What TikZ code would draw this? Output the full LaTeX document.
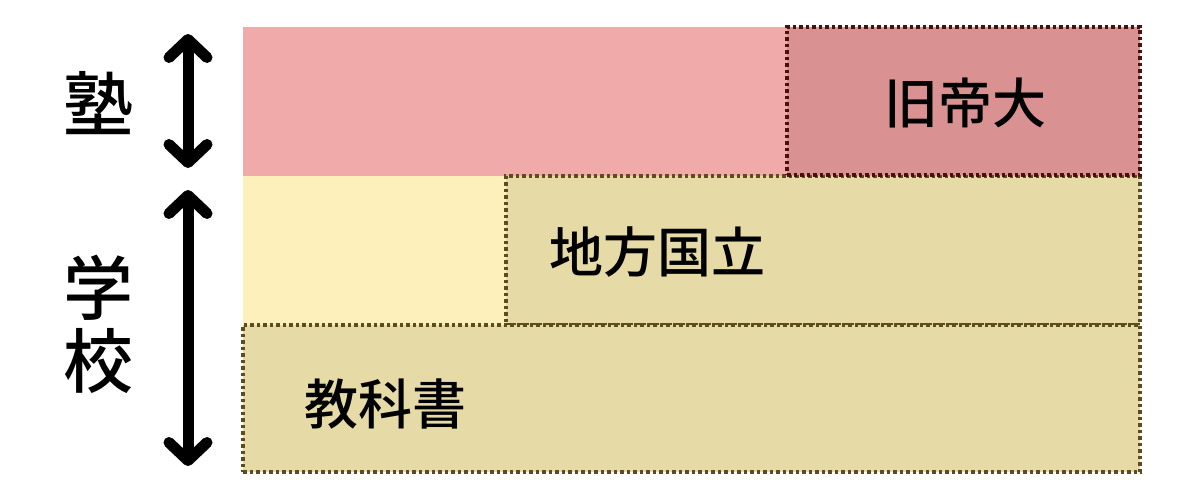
\documentclass[tikz,border=0pt]{standalone}
\usepackage{fontspec}
\setmainfont{Noto Sans CJK JP}[BoldFont={Noto Sans CJK JP Medium}]
\usetikzlibrary{arrows.meta}
\definecolor{pinkA}{HTML}{F0AAAA}
\definecolor{pinkB}{HTML}{DA9191}
\definecolor{yelA}{HTML}{FEF0BB}
\definecolor{tanA}{HTML}{E6DAA6}
\definecolor{redB}{HTML}{4A1010}
\definecolor{oliveB}{HTML}{5E4C20}
\tikzset{
  band/.style={draw=none, inner sep=0pt, outer sep=0pt},
  dotbox/.style={line width=3.5bp, dash pattern=on 3.5bp off 3bp, inner sep=0pt, outer sep=0pt},
  lab/.style={font=\fontsize{54bp}{60bp}\selectfont\bfseries, inner sep=0pt, anchor=center},
  side/.style={font=\fontsize{70bp}{73bp}\selectfont\bfseries, inner sep=0pt, align=center, anchor=center},
  darr/.style={line width=11bp, {Straight Barb[round,length=18bp,width=38bp]}-{Straight Barb[round,length=18bp,width=38bp]}}
}
\begin{document}
\begin{tikzpicture}[x=1bp,y=-1bp]
\useasboundingbox (0,0) rectangle (1200,500);
% bands
\path[fill=pinkA] (243,27) rectangle (1140,176);
\path[fill=yelA] (243,176) rectangle (1140,325);
% boxes
\node[dotbox, fill=tanA, draw=oliveB, minimum width=634bp, minimum height=149bp, anchor=north west] (chiho) at (506,176) {};
\node[dotbox, fill=tanA, draw=oliveB, minimum width=897bp, minimum height=147bp, anchor=north west] (kyo) at (243,325) {};
\node[dotbox, fill=pinkB, draw=redB, minimum width=353bp, minimum height=148bp, anchor=north west] (kyu) at (787,27) {};
% labels
\node[lab] (tkyu) at (965,103) {旧帝大};
\node[lab] (tchiho) at (657,252) {地方国立};
\node[lab] (tkyo) at (385,404) {教科書};
\node[side] (juku) at (98,103) {塾};
\node[side] (gakko) at (98,324) {学\\校};
% arrows
\coordinate (a1) at (188,34);
\coordinate (a2) at (188,168);
\coordinate (b1) at (188,190);
\coordinate (b2) at (188,466);
\draw[darr] (a1) -- (a2);
\draw[darr] (b1) -- (b2);
\end{tikzpicture}
\end{document}
